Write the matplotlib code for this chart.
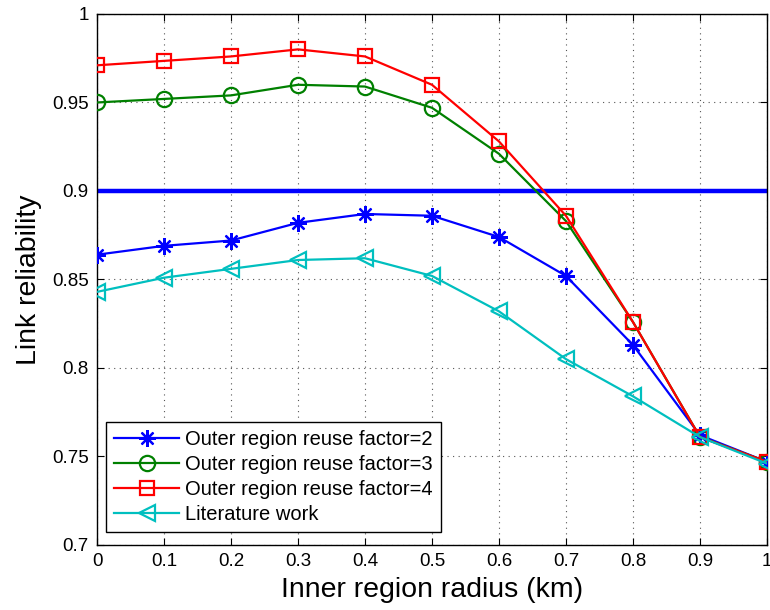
import matplotlib
matplotlib.use("Agg")
import matplotlib.pyplot as plt

plt.rcParams["font.family"] = ["Liberation Sans", "DejaVu Sans"]

# inner region radius (km)
radius = [0.0, 0.1, 0.2, 0.3, 0.4, 0.5, 0.6, 0.7, 0.8, 0.9, 1.0]

reuse2 = [0.864, 0.869, 0.872, 0.882, 0.887, 0.886, 0.874, 0.852, 0.813, 0.762, 0.747]
reuse3 = [0.950, 0.952, 0.954, 0.960, 0.959, 0.947, 0.921, 0.883, 0.826, 0.761, 0.747]
reuse4 = [0.971, 0.9735, 0.976, 0.980, 0.976, 0.960, 0.928, 0.886, 0.826, 0.761, 0.747]
literature = [0.843, 0.851, 0.856, 0.861, 0.862, 0.852, 0.832, 0.805, 0.784, 0.761, 0.746]

threshold = 0.9

labels = [
    "Outer region reuse factor=2",
    "Outer region reuse factor=3",
    "Outer region reuse factor=4",
    "Literature work",
]

fig = plt.figure(figsize=(7.7, 6.1), dpi=100)
ax = fig.add_axes([0.126, 0.1066, 0.87, 0.8705])

# matlab-style asterisk: 8 arms
ax.plot(radius, reuse2, color="#0000ff", marker=(8, 2, 0), ms=12,
        mew=1.6, lw=1.6, label=labels[0], zorder=3)
ax.plot(radius, reuse3, color="#008000", marker="o", ms=11, mfc="none",
        mew=1.6, lw=1.6, label=labels[1], zorder=3)
ax.plot(radius, reuse4, color="#ff0000", marker="s", ms=9.5, mfc="none",
        mew=1.6, lw=1.6, label=labels[2], zorder=3)
ax.plot(radius, literature, color="#00bfbf", marker="<", ms=12, mfc="none",
        mew=1.6, lw=1.6, label=labels[3], zorder=3)

ax.axhline(threshold, color="#0000ff", lw=3.2, zorder=2)

ax.set_xlim(0, 1)
ax.set_ylim(0.7, 1)
ax.set_xticks(radius)
ax.set_xticklabels(["0", "0.1", "0.2", "0.3", "0.4", "0.5", "0.6", "0.7", "0.8", "0.9", "1"])
ax.set_yticks([0.7, 0.75, 0.8, 0.85, 0.9, 0.95, 1.0])
ax.set_yticklabels(["0.7", "0.75", "0.8", "0.85", "0.9", "0.95", "1"])

ax.grid(True, color="#555555", linestyle=(0, (1, 4)), lw=0.8)
ax.tick_params(direction="in", top=True, right=True, length=5, labelsize=13.5, pad=6)
for s in ax.spines.values():
    s.set_linewidth(1.0)

ax.set_xlabel("Inner region radius (km)", fontsize=20.5, labelpad=5)
ax.set_ylabel("Link reliability", fontsize=20.5, labelpad=7)

leg = ax.legend(loc="lower left", bbox_to_anchor=(0.014, 0.024), fontsize=14.5,
                fancybox=False, framealpha=1, edgecolor="black",
                handlelength=3.2, borderpad=0.4, labelspacing=0.3,
                handletextpad=0.3, borderaxespad=0)
leg.get_frame().set_linewidth(1.0)

fig.savefig("out.png", dpi=100)
